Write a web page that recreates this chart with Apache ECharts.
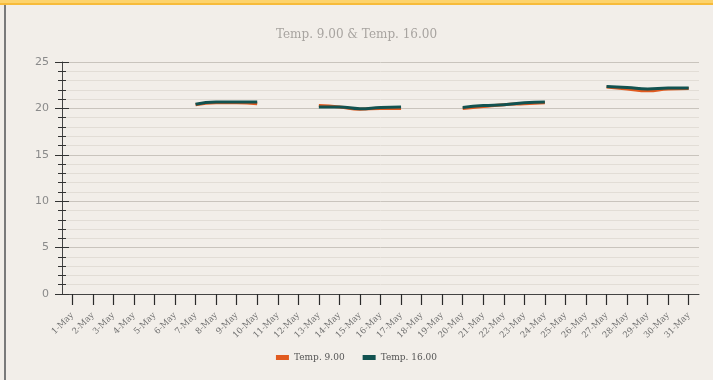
<!DOCTYPE html>
<html>
<head>
<meta charset="utf-8">
<script src="https://cdn.jsdelivr.net/npm/echarts@6/dist/echarts.min.js"></script>
<style>
  html, body { margin: 0; padding: 0; background: #f2eee9; }
  #wrap { position: relative; width: 713px; height: 380px; background: #f2eee9; overflow: hidden; }
  #topbar { position: absolute; left: 0; top: 0; width: 713px; height: 3px; background: #fdd36c; border-bottom: 2px solid #f7bb3a; z-index: 2; }
  #leftline { position: absolute; left: 4px; top: 5px; width: 2px; height: 375px; background: #7a7a7a; z-index: 2; }
  #chart { position: absolute; left: 0; top: 0; width: 713px; height: 380px; }
</style>
</head>
<body>
<div id="wrap">
  <div id="chart"></div>
  <div id="topbar"></div>
  <div id="leftline"></div>
</div>
<script>
// Daily readings for May; null marks days without a reading
const days = ['1-May','2-May','3-May','4-May','5-May','6-May','7-May','8-May','9-May','10-May',
  '11-May','12-May','13-May','14-May','15-May','16-May','17-May','18-May','19-May','20-May',
  '21-May','22-May','23-May','24-May','25-May','26-May','27-May','28-May','29-May','30-May','31-May'];

const temp900 = [null,null,null,null,null,null,20.4,20.6,20.6,20.5,
  null,null,20.3,20.15,19.9,20.0,20.0,null,null,20.0,
  20.2,20.4,20.5,20.6,null,null,22.3,22.1,21.9,22.1,22.15];

const temp1600 = [null,null,null,null,null,null,20.45,20.7,20.7,20.7,
  null,null,20.15,20.15,19.97,20.1,20.15,null,null,20.1,
  20.3,20.4,20.6,20.7,null,null,22.35,22.25,22.1,22.2,22.2];

const yTicks = [0, 5, 10, 15, 20, 25];

const serif = '"DejaVu Serif", "Liberation Serif", serif';
const chart = echarts.init(document.getElementById('chart'));

const yBase = {
  type: 'value',
  min: yTicks[0],
  max: yTicks[yTicks.length - 1],
  interval: yTicks[1] - yTicks[0],
  position: 'left'
};

chart.setOption({
  backgroundColor: 'transparent',
  animation: false,
  title: {
    text: 'Temp. 9.00 & Temp. 16.00',
    left: 'center',
    top: 24,
    textStyle: { fontFamily: serif, fontSize: 12, fontWeight: 'normal', color: '#a8a4a0' }
  },
  legend: {
    bottom: 13,
    left: 'center',
    itemWidth: 13,
    itemHeight: 5,
    itemGap: 18,
    icon: 'rect',
    textStyle: { fontFamily: serif, fontSize: 9, color: '#555' },
    data: ['Temp. 9.00', 'Temp. 16.00']
  },
  grid: { left: 62, right: 14, top: 62, bottom: 86, containLabel: false },
  xAxis: {
    type: 'category',
    data: days,
    boundaryGap: true,
    axisLine: { show: true, lineStyle: { color: '#444', width: 1 } },
    axisTick: { show: true, interval: 0, alignWithLabel: true, inside: false, length: 11, lineStyle: { color: '#2a2a2a', width: 1.2 } },
    axisLabel: {
      show: true,
      rotate: 45,
      interval: 0,
      margin: 20,
      fontFamily: serif,
      fontSize: 8.5,
      color: '#6e6e6e'
    },
    splitLine: { show: false }
  },
  yAxis: [
    Object.assign({}, yBase, {
      axisLine: { show: true, lineStyle: { color: '#444' } },
      axisTick: { show: true, inside: false, length: 7, lineStyle: { color: '#333' } },
      minorTick: { show: true, splitNumber: 5, length: 4, lineStyle: { color: '#333' } },
      axisLabel: { margin: 13, fontFamily: '"DejaVu Sans", sans-serif', fontSize: 11, color: '#8a8a8a' },
      splitLine: { show: true, lineStyle: { color: '#c9c4bd', width: 1 } },
      minorSplitLine: { show: true, lineStyle: { color: '#e2ddd6', width: 1 } }
    }),
    Object.assign({}, yBase, {
      axisLine: { show: false },
      axisTick: { show: true, inside: true, length: 7, lineStyle: { color: '#333' } },
      minorTick: { show: true, splitNumber: 5, length: 4, lineStyle: { color: '#333' } },
      axisLabel: { show: false },
      splitLine: { show: false }
    })
  ],
  series: [
    {
      name: 'Temp. 9.00',
      type: 'line',
      data: temp900,
      smooth: true,
      showSymbol: false,
      connectNulls: false,
      color: '#e15a1f',
      lineStyle: { width: 3 }
    },
    {
      name: 'Temp. 16.00',
      type: 'line',
      data: temp1600,
      smooth: true,
      showSymbol: false,
      connectNulls: false,
      color: '#125250',
      lineStyle: { width: 3 }
    }
  ]
});
</script>
</body>
</html>
